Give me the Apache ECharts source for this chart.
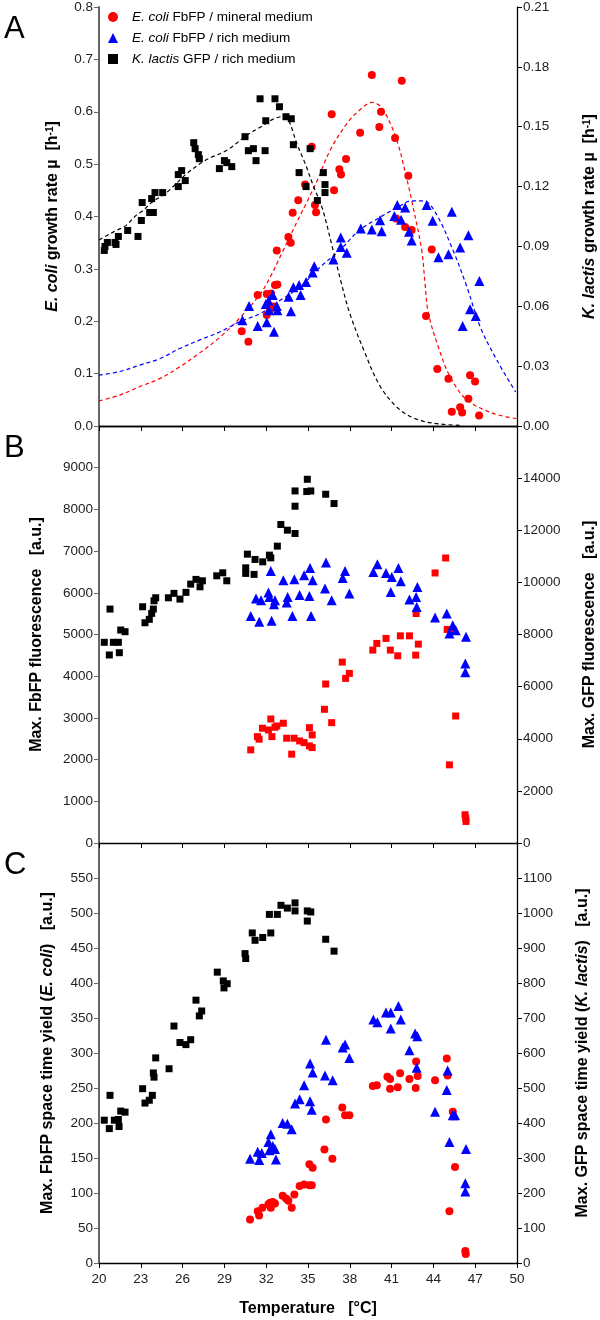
<!DOCTYPE html>
<html><head><meta charset="utf-8">
<script src="https://cdn.jsdelivr.net/npm/echarts/dist/echarts.min.js"></script>
<style>html,body{margin:0;padding:0;background:#fff}#c{width:600px;height:1320px}</style>
</head><body><div id="c"></div><script>
// ---------- DATA ----------
const tempTicks = [20, 23, 26, 29, 32, 35, 38, 41, 44, 47, 50];
const seriesNames = ['E. coli FbFP / mineral medium', 'E. coli FbFP / rich medium', 'K. lactis GFP / rich medium'];

// Panel A: growth rates [T, mu]
const aEcoliMineral = [[30.24,0.181],[30.72,0.161],[31.39,0.25],[32.04,0.252],[32.35,0.253],[32.04,0.212],[32.27,0.221],[32.51,0.228],[32.63,0.269],[32.8,0.27],[32.76,0.335],[33.59,0.361],[33.76,0.35],[33.9,0.407],[34.3,0.431],[34.79,0.461],[35.5,0.422],[35.58,0.408],[35.27,0.533],[36.7,0.595],[36.87,0.45],[37.25,0.49],[37.37,0.48],[37.73,0.51],[38.74,0.56],[39.58,0.67],[40.12,0.571],[40.24,0.6],[41.25,0.55],[41.73,0.659],[42.2,0.478],[41.32,0.396],[41.97,0.38],[42.44,0.374],[43.88,0.337],[43.47,0.21],[44.28,0.109],[45.08,0.09],[45.32,0.027],[45.92,0.036],[46.06,0.026],[46.51,0.052],[46.63,0.097],[46.99,0.085],[47.28,0.02]];
const aEcoliRich = [[30.29,0.202],[30.77,0.229],[31.39,0.191],[32.04,0.198],[31.97,0.233],[32.16,0.239],[32.47,0.25],[32.56,0.18],[32.2,0.221],[32.76,0.229],[32.8,0.221],[33.61,0.247],[33.78,0.219],[33.95,0.265],[34.36,0.269],[34.47,0.25],[34.86,0.275],[35.33,0.293],[35.45,0.305],[36.82,0.318],[37.35,0.342],[37.35,0.36],[37.78,0.331],[38.79,0.377],[39.58,0.375],[40.17,0.393],[40.29,0.372],[41.2,0.401],[41.41,0.422],[41.68,0.394],[41.97,0.417],[42.25,0.371],[42.44,0.354],[43.52,0.422],[43.95,0.392],[44.36,0.322],[45.08,0.328],[45.32,0.409],[45.92,0.341],[46.51,0.364],[46.63,0.223],[47.04,0.21],[46.1,0.191],[47.3,0.277]];
const aKlactis = [[20.38,0.088],[20.43,0.09],[20.6,0.092],[21.15,0.092],[21.22,0.091],[21.39,0.095],[22.06,0.098],[22.8,0.095],[23.04,0.103],[23.1,0.112],[23.64,0.107],[23.9,0.107],[23.78,0.114],[24.02,0.117],[24.57,0.117],[25.69,0.12],[25.69,0.126],[25.93,0.128],[26.19,0.123],[26.8,0.142],[26.9,0.139],[27.13,0.136],[27.2,0.134],[28.64,0.129],[29.0,0.133],[29.17,0.132],[29.53,0.13],[30.48,0.145],[30.72,0.138],[31.27,0.133],[31.08,0.139],[31.92,0.138],[31.97,0.153],[31.56,0.164],[32.63,0.164],[32.95,0.16],[33.42,0.155],[33.8,0.154],[33.95,0.141],[34.36,0.127],[35.15,0.139],[34.86,0.12],[36.1,0.127],[36.22,0.121],[36.22,0.117],[35.67,0.113]];
// fitted curves
const fitEcoliMineral = [[20,0.048],[21.5,0.059],[22.9,0.075],[24.4,0.091],[25.8,0.113],[27.2,0.139],[28.7,0.17],[30.1,0.206],[31.6,0.253],[32.3,0.285],[33.0,0.323],[33.7,0.362],[34.4,0.4],[35.0,0.432],[35.6,0.465],[36.6,0.527],[37.8,0.578],[38.7,0.603],[39.6,0.618],[40.2,0.61],[40.9,0.578],[41.5,0.535],[42.0,0.482],[42.44,0.431],[43.16,0.336],[43.4,0.272],[43.64,0.215],[44.43,0.145],[45.2,0.094],[46.4,0.05],[48.3,0.024],[50,0.014]];
const fitEcoliRich = [[20,0.097],[21.5,0.104],[22.9,0.116],[24.4,0.129],[25.8,0.148],[27.2,0.164],[28.7,0.18],[30.1,0.199],[31.6,0.215],[33.0,0.24],[34.4,0.265],[35.9,0.304],[37.3,0.336],[38.7,0.374],[40.2,0.399],[41.6,0.42],[42.4,0.43],[43.3,0.43],[44.2,0.405],[45.4,0.336],[46.4,0.266],[47.35,0.19],[48.55,0.126],[49.9,0.065]];
const fitKlactis = [[20.0,0.0932],[20.6,0.0956],[21.3,0.0982],[21.9,0.1003],[22.7,0.1058],[23.2,0.1082],[23.7,0.1116],[24.9,0.1173],[26.3,0.1265],[27.7,0.1334],[29.2,0.1383],[30.6,0.1457],[31.8,0.1507],[32.5,0.1538],[33.2,0.1551],[33.6,0.1533],[34.2,0.1415],[34.8,0.1315],[35.4,0.12],[36.0,0.1097],[36.8,0.0882],[37.4,0.0714],[38.0,0.0564],[39.0,0.0381],[40.2,0.0197],[41.6,0.0081],[43.0,0.0029],[44.5,0.001],[46.0,0.0003]];

// Panel B: max fluorescence
const bEcoliMineral = [[30.89,2233],[31.37,2551],[31.49,2489],[31.73,2752],[32.16,2711],[32.33,2974],[32.41,2551],[32.63,2776],[32.76,2807],[33.23,2872],[33.47,2513],[33.83,2130],[34.0,2513],[34.4,2448],[34.72,2407],[35.1,2766],[35.3,2592],[35.1,2328],[35.3,2288],[36.18,3206],[36.27,3812],[36.7,2886],[37.46,4338],[37.7,3948],[37.97,4068],[39.65,4626],[39.94,4786],[40.6,4906],[40.91,4626],[41.44,4489],[41.63,4968],[42.28,4968],[42.73,4506],[42.92,4769],[42.76,5504],[44.12,6476],[44.88,6835],[44.99,5121],[45.23,5104],[45.15,1874],[45.6,3046],[46.27,677],[46.32,598],[46.34,517]];
const bEcoliRich = [[30.89,5446],[31.5,5303],[32.39,5327],[31.27,5863],[31.63,5822],[32.33,6523],[32.16,6006],[32.23,5901],[32.63,5822],[32.56,5727],[33.23,6301],[33.47,5767],[33.54,5901],[33.88,5446],[34.02,6325],[34.4,5950],[34.72,6420],[35.15,6595],[35.1,5925],[35.22,5446],[35.33,6301],[36.22,6102],[36.29,6724],[36.7,5822],[37.49,6356],[37.66,6523],[37.97,5983],[39.69,6499],[39.98,6684],[40.6,6476],[40.94,6021],[41.01,6380],[41.49,6595],[41.66,6277],[42.28,5839],[42.76,5901],[42.85,6140],[42.8,5662],[44.12,5408],[44.96,5504],[45.15,5025],[45.39,5224],[45.6,5104],[46.34,4944],[46.29,4307],[46.29,4092]];
const bKlactis = [[20.38,7700],[20.79,8976],[21.03,7700],[21.39,7700],[21.56,8172],[21.87,8107],[20.74,7214],[21.46,7302],[23.13,9064],[23.3,8451],[23.61,8582],[23.78,8811],[23.9,8976],[23.95,9294],[24.07,9409],[24.98,9409],[25.38,9578],[25.81,9359],[26.24,9616],[26.58,9934],[26.96,10114],[27.25,9831],[27.42,10061],[28.45,10252],[28.88,10367],[29.17,10061],[30.53,10558],[30.53,10344],[30.65,11083],[31.13,10306],[31.2,10880],[31.75,10788],[32.23,11045],[32.33,10941],[32.8,11390],[33.05,12221],[33.52,12003],[34.07,11876],[34.07,12922],[34.07,13508],[34.95,13956],[34.91,13485],[35.2,13508],[36.27,13382],[36.87,13025]];

// Panel C: max space time yield
const cEcoliMineral = [[30.84,62],[31.39,74],[31.49,68],[31.73,79],[32.16,84],[32.28,86],[32.33,79],[32.47,87],[32.63,85],[33.18,96],[33.42,92],[33.59,89],[33.83,79],[34.02,98],[34.4,110],[34.72,112],[35.1,111],[35.27,111],[35.1,141],[35.33,136],[36.18,162],[36.29,205],[36.75,149],[37.46,222],[37.66,211],[37.97,211],[39.65,253],[39.94,254],[40.89,249],[40.89,263],[40.7,266],[41.44,251],[41.61,271],[42.28,263],[42.76,288],[42.87,267],[42.73,250],[44.12,261],[44.96,292],[45.02,268],[45.39,216],[45.15,74],[45.55,137],[46.29,17],[46.32,13]];
const cEcoliRich = [[30.84,149],[31.39,159],[31.5,147],[31.68,157],[32.16,173],[32.33,184],[32.23,161],[32.47,167],[32.63,163],[32.7,148],[33.18,200],[33.52,199],[33.83,191],[34.07,228],[34.4,234],[34.72,254],[35.15,231],[35.27,219],[36.77,261],[35.15,285],[35.33,272],[36.22,268],[36.29,319],[37.49,308],[37.66,312],[37.97,293],[39.69,348],[39.98,344],[40.6,358],[40.94,358],[40.94,335],[41.49,367],[41.66,348],[42.28,304],[42.69,328],[42.85,324],[42.8,279],[45.02,275],[44.96,247],[44.12,216],[45.15,173],[45.39,211],[45.55,211],[46.34,163],[46.29,114],[46.29,102]];
const cKlactis = [[20.38,408],[20.74,384],[20.79,479],[21.1,408],[21.39,410],[21.44,390],[21.56,434],[21.87,431],[23.13,498],[23.3,457],[23.61,465],[23.83,479],[23.9,543],[23.95,531],[24.07,586],[25.03,555],[25.38,677],[25.81,630],[26.24,624],[26.58,638],[26.96,751],[27.2,706],[27.37,720],[28.49,831],[28.92,806],[28.97,786],[29.2,798],[30.48,884],[30.53,870],[31.0,943],[31.2,922],[31.75,930],[32.23,996],[32.33,943],[32.8,996],[33.06,1022],[33.52,1014],[34.07,1029],[34.07,1006],[34.95,1006],[34.95,977],[35.2,1003],[36.27,925],[36.87,891]];

// ---------- STYLE ----------
const FONT = '"Liberation Sans", Arial, sans-serif';
const RED = '#ff0000', BLUE = '#0000ff', BLACK = '#000000';
const NAME_SIZE = 16, TICK_SIZE = 13.5;
const nameStyle = {
  fontFamily: FONT, fontSize: NAME_SIZE, fontWeight: 'bold', color: '#000',
  rich: {
    i: {fontFamily: FONT, fontSize: NAME_SIZE, fontWeight: 'bold', fontStyle: 'italic', color: '#000'},
    s: {fontFamily: FONT, fontSize: 10, fontWeight: 'bold', verticalAlign: 'top', color: '#000'}
  }
};
const grids = [
  {left: 99, right: 83, top: 7, height: 419, containLabel: false, outerBoundsMode: 'none'},
  {left: 99, right: 83, top: 426, height: 417, containLabel: false, outerBoundsMode: 'none'},
  {left: 99, right: 83, top: 843, height: 420, containLabel: false, outerBoundsMode: 'none'}
];
function xAxis(gi, showLabels) {
  return {
    type: 'value', gridIndex: gi, min: tempTicks[0], max: tempTicks[tempTicks.length - 1], interval: 3,
    axisLine: {show: true, lineStyle: {color: '#000', width: 1.3}},
    axisTick: {show: true, length: 5, lineStyle: {color: '#000', width: 1}},
    axisLabel: {show: showLabels, fontFamily: FONT, fontSize: TICK_SIZE, color: '#222', margin: 9},
    splitLine: {show: false},
    name: showLabels ? 'Temperature   [°C]' : '', nameLocation: 'middle', nameGap: 38,
    nameTextStyle: nameStyle
  };
}
function yAxis(gi, pos, max, interval, name, gap, fmt, hideMax) {
  const left = pos === 'left';
  const col = left ? '#666' : '#000';
  return {
    type: 'value', gridIndex: gi, position: pos, min: 0, max: max, interval: interval,
    axisLine: {show: true, onZero: false, lineStyle: {color: col, width: left ? 2 : 1.3}},
    axisTick: {show: true, length: 5, lineStyle: {color: col, width: 1}},
    axisLabel: {fontFamily: FONT, fontSize: TICK_SIZE, color: '#222', margin: 6, showMaxLabel: !hideMax,
      formatter: fmt || (v => String(Math.round(v)))},
    splitLine: {show: false},
    name: name, nameLocation: 'middle', nameGap: gap, nameRotate: 90, nameTextStyle: nameStyle
  };
}
function scatter(name, data, symbol, size, color, xi, yi) {
  return {type: 'scatter', name, data, symbol, symbolSize: size, xAxisIndex: xi, yAxisIndex: yi,
    itemStyle: {color, opacity: 1}, emphasis: {disabled: true}, silent: true, animation: false, z: 3};
}
function fit(data, color, yi) {
  return {type: 'line', name: 'fit', data, xAxisIndex: 0, yAxisIndex: yi, smooth: 0.35, symbol: 'none',
    lineStyle: {color, width: 1.2, type: [4, 3]}, silent: true, animation: false, z: 2};
}

const chart = echarts.init(document.getElementById('c'), null, {renderer: 'canvas'});
chart.setOption({
  backgroundColor: '#fff',
  animation: false,
  grid: grids,
  xAxis: [
    xAxis(0, false), xAxis(1, false), xAxis(2, true),
    {type: 'value', gridIndex: 0, position: 'top', min: 20, max: 50,
      axisLine: {show: true, lineStyle: {color: '#000', width: 1.3}}, axisTick: {show: false},
      axisLabel: {show: false}, splitLine: {show: false}}
  ],
  yAxis: [
    yAxis(0, 'left', 0.8, 0.1, '{i|E. coli} growth rate µ  [h{s|-1}]', 38, v => v.toFixed(1), false),
    yAxis(0, 'right', 0.21, 0.03, '{i|K. lactis} growth rate µ  [h{s|-1}]', 65, v => v.toFixed(2), false),
    yAxis(1, 'left', 10000, 1000, 'Max. FbFP fluorescence   [a.u.]', 54, null, true),
    yAxis(1, 'right', 16000, 2000, 'Max. GFP fluorescence   [a.u.]', 65, null, true),
    yAxis(2, 'left', 600, 50, 'Max. FbFP space time yield ({i|E. coli})   [a.u.]', 43, null, true),
    yAxis(2, 'right', 1200, 100, 'Max. GFP space time yield ({i|K. lactis})   [a.u.]', 58, null, true)
  ],
  legend: {
    orient: 'vertical', left: 108, top: 10, padding: 0, itemGap: 7, itemWidth: 10, itemHeight: 10,
    selectedMode: false,
    data: [{name: seriesNames[0], icon: 'circle'}, {name: seriesNames[1], icon: 'triangle'}, {name: seriesNames[2], icon: 'rect'}],
    formatter: n => n.replace('E. coli', '{i|E. coli}').replace('K. lactis', '{i|K. lactis}'),
    textStyle: {fontFamily: FONT, fontSize: 13.5, color: '#000', lineHeight: 14, padding: [0, 0, 0, 9],
      rich: {i: {fontFamily: FONT, fontSize: 13.5, fontStyle: 'italic', color: '#000'}}}
  },
  graphic: [
    {type: 'text', left: 4, top: 14, style: {text: 'A', font: '31px ' + FONT, fill: '#000'}},
    {type: 'text', left: 4, top: 433, style: {text: 'B', font: '31px ' + FONT, fill: '#000'}},
    {type: 'text', left: 4, top: 850, style: {text: 'C', font: '31px ' + FONT, fill: '#000'}}
  ],
  series: [
    fit(fitEcoliMineral, RED, 0),
    fit(fitEcoliRich, BLUE, 0),
    fit(fitKlactis, BLACK, 1),
    scatter(seriesNames[0], aEcoliMineral, 'circle', 8, RED, 0, 0),
    scatter(seriesNames[1], aEcoliRich, 'triangle', 10, BLUE, 0, 0),
    scatter(seriesNames[2], aKlactis, 'rect', 7, BLACK, 0, 1),
    scatter(seriesNames[0], bEcoliMineral, 'rect', 7, RED, 1, 2),
    scatter(seriesNames[1], bEcoliRich, 'triangle', 10, BLUE, 1, 2),
    scatter(seriesNames[2], bKlactis, 'rect', 7, BLACK, 1, 3),
    scatter(seriesNames[0], cEcoliMineral, 'circle', 8, RED, 2, 4),
    scatter(seriesNames[1], cEcoliRich, 'triangle', 10, BLUE, 2, 4),
    scatter(seriesNames[2], cKlactis, 'rect', 7, BLACK, 2, 5)
  ]
});
</script></body></html>
